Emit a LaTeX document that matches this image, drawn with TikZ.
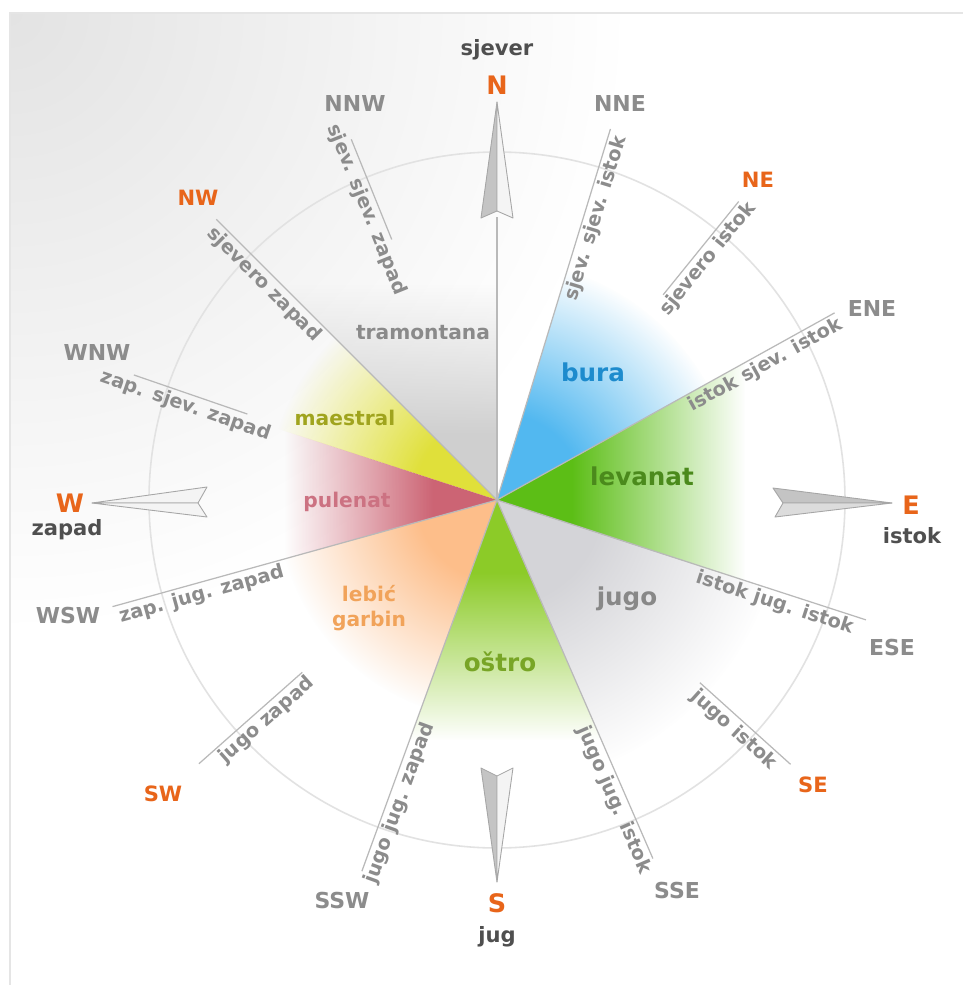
\documentclass[tikz,border=0pt]{standalone}
\usepackage{fontspec}
\setmainfont{DejaVu Sans}
\usepackage{xcolor}
\usepackage{tikz}
\usetikzlibrary{calc}
\usetikzlibrary{fadings}

\definecolor{ltext}{HTML}{8C8C8C}
\definecolor{dtext}{HTML}{4F4F4F}
\definecolor{otext}{HTML}{E8651A}
\definecolor{rayline}{HTML}{B9B9B9}
\definecolor{ringline}{HTML}{E2E2E2}
\definecolor{arrowdark}{HTML}{C4C4C4}
\definecolor{arrowlight}{HTML}{F4F4F4}
\definecolor{arrowedge}{HTML}{A6A6A6}
\definecolor{tramcol}{HTML}{CFCFCF}
\definecolor{maescol}{HTML}{E0E03A}
\definecolor{pulcol}{HTML}{CC6474}
\definecolor{lebcol}{HTML}{FDBE8A}
\definecolor{ostcol}{HTML}{8CCB28}
\definecolor{jugcol}{HTML}{D4D4D8}
\definecolor{levcol}{HTML}{5CBE16}
\definecolor{buracol}{HTML}{52B8F0}
\definecolor{tramtext}{HTML}{8A8A8A}
\definecolor{maestext}{HTML}{A0A41E}
\definecolor{pultext}{HTML}{CC7282}
\definecolor{lebtext}{HTML}{F1A35A}
\definecolor{osttext}{HTML}{78A526}
\definecolor{jugtext}{HTML}{888888}
\definecolor{levtext}{HTML}{4B8A1C}
\definecolor{buratext}{HTML}{1D8BCD}

\pgfdeclareradialshading{windmaskr}{\pgfpoint{0bp}{0bp}}{color(0bp)=(white); color(9bp)=(white); color(25bp)=(black); color(50bp)=(black)}
\pgfdeclarefading{windradial}{\pgfuseshading{windmaskr}}
\pgfdeclareverticalshading{windmaskv}{100bp}{color(0bp)=(white); color(25bp)=(white); color(40bp)=(white); color(75bp)=(black); color(100bp)=(black)}
\pgfdeclarefading{windaxis}{\pgfuseshading{windmaskv}}

\begin{document}
\begin{tikzpicture}[x=0.2mm,y=0.2mm,
	ray/.style={draw=rayline,line width=0.7pt},
	ring/.style={draw=ringline,line width=0.9pt},
	darkhalf/.style={fill=arrowdark,draw=arrowedge,line width=0.5pt,line join=round},
	lighthalf/.style={fill=arrowlight,draw=arrowedge,line width=0.5pt,line join=round},
	point/.style={font=\fontsize{12.5}{15}\selectfont\bfseries,text=ltext},
	mainpoint/.style={font=\fontsize{14.5}{17}\selectfont\bfseries,text=otext},
	halfpoint/.style={font=\fontsize{12}{14}\selectfont\bfseries,text=otext},
	side/.style={font=\fontsize{12}{14}\selectfont\bfseries,text=dtext},
	raytext/.style={font=\fontsize{11}{13}\selectfont\bfseries,text=ltext,anchor=north,inner sep=1.5pt},
	bigwind/.style={font=\fontsize{14}{16}\selectfont\bfseries},
	smallwind/.style={font=\fontsize{11.5}{14}\selectfont\bfseries}]
	\useasboundingbox (-497,-485) rectangle (466,500);
	\fill[white] (-497,-485) rectangle (466,500);
	\begin{scope}
		\clip (-487,-485) rectangle (466,487);
		\shade[inner color=black!11,outer color=white] (-487,487) circle (620);
	\end{scope}
	\draw[black!10,line width=0.8pt] (-487,-485) -- (-487,487) -- (466,487);

	% wind sectors
	\fill[tramcol,path fading=windaxis] (0,0) -- (0,215) -- (-215,215) -- cycle;
	\begin{scope}
		\clip (0,0) -- (135:400) -- (162:400) -- cycle;
		\fill[maescol,path fading=windradial] (0,0) circle (230);
	\end{scope}
	\fill[pulcol,path fading=windaxis,fading angle=90] (0,0) -- (-212,69) -- (-212,-59) -- cycle;
	\begin{scope}
		\clip (0,0) -- (195.5:400) -- (250:400) -- cycle;
		\fill[lebcol,path fading=windradial] (0,0) circle (220);
	\end{scope}
	\fill[ostcol,path fading=windaxis,fading angle=180] (0,0) -- (-87,-240) -- (104,-240) -- cycle;
	\begin{scope}
		\clip (0,0) -- (-66.5:400) -- (-18:400) -- cycle;
		\fill[jugcol,path fading=windradial] (0,0) circle (285);
	\end{scope}
	\fill[levcol,path fading=windaxis,fading angle=-90] (0,0) -- (248,137) -- (248,-81) -- cycle;
	\begin{scope}
		\clip (0,0) -- (29:400) -- (73:400) -- cycle;
		\fill[buracol,path fading=windradial] (0,0) circle (240);
	\end{scope}

	\draw[ring] (0,0) circle (348);

	% rays
	\draw[ray] (0,0) -- (90:283);
	\draw[ray] (0,0) -- (73:388);
	\draw[ray] (0,0) -- (29:386);
	\draw[ray] (0,0) -- (-18:388);
	\draw[ray] (0,0) -- (-66.5:391);
	\draw[ray] (0,0) -- (250:395);
	\draw[ray] (0,0) -- (195.5:399);
	\draw[ray] (0,0) -- (135:397);
	\draw[ray] (112:281) -- (112:389);
	\draw[ray] (51:264) -- (51:384);
	\draw[ray] (161:264) -- (161:384);
	\draw[ray] (-42:273) -- (-42:395);
	\draw[ray] (221.5:260) -- (221.5:398);

	% arrows
	\draw[darkhalf] (0,398) -- (-16,282) -- (0,289) -- cycle;
	\draw[lighthalf] (0,398) -- (0,289) -- (16,282) -- cycle;
	\draw[darkhalf] (0,-382) -- (-16,-268) -- (0,-276) -- cycle;
	\draw[lighthalf] (0,-382) -- (0,-276) -- (16,-268) -- cycle;
	\draw[darkhalf] (395,-3) -- (276,12) -- (286,-3) -- cycle;
	\draw[darkhalf,fill=arrowdark!60!white] (395,-3) -- (286,-3) -- (278,-17) -- cycle;
	\draw[lighthalf] (-405,-3) -- (-290,13) -- (-299,-3) -- cycle;
	\draw[lighthalf] (-405,-3) -- (-299,-3) -- (-290,-17) -- cycle;

	% ray labels
	\node[raytext,rotate=-68] (nnwtext) at (112:318) {sjev. sjev. zapad};
	\node[raytext,rotate=-45] (nwtext) at (135:317) {sjevero zapad};
	\node[raytext,rotate=-19] (wnwtext) at (161:325) {zap. sjev. zapad};
	\node[raytext,rotate=15.5] (wswtext) at (195.5:310) {zap. jug. zapad};
	\node[raytext,rotate=41.5] (swtext) at (221.5:318) {jugo zapad};
	\node[raytext,rotate=70] (sswtext) at (250:318) {jugo jug. zapad};
	\node[raytext,rotate=-66.5] (ssetext) at (-66.5:322) {jugo jug. istok};
	\node[raytext,rotate=-42] (setext) at (-42:330) {jugo istok};
	\node[raytext,rotate=-18] (esetext) at (-18:296) {istok jug. istok};
	\node[raytext,rotate=29] (enetext) at (29:300) {istok sjev. istok};
	\node[raytext,rotate=51] (netext) at (51:320) {sjevero istok};
	\node[raytext,rotate=73] (nnetext) at (73:298) {sjev. sjev. istok};

	% compass points
	\node[side] (sjever) at (0,450) {sjever};
	\node[mainpoint] (n) at (0,415) {N};
	\node[point] (nnw) at (-142,397) {NNW};
	\node[point] (nne) at (123,397) {NNE};
	\node[halfpoint] (nw) at (-299,302) {NW};
	\node[halfpoint] (ne) at (261,320) {NE};
	\node[point] (wnw) at (-400,148) {WNW};
	\node[point] (ene) at (375,192) {ENE};
	\node[mainpoint] (w) at (-427,-3) {W};
	\node[side] (zapad) at (-430,-30) {zapad};
	\node[mainpoint] (e) at (414,-5) {E};
	\node[side] (istok) at (415,-36) {istok};
	\node[point] (wsw) at (-429,-115) {WSW};
	\node[point] (ese) at (395,-147) {ESE};
	\node[halfpoint] (sw) at (-334,-294) {SW};
	\node[halfpoint] (se) at (316,-285) {SE};
	\node[point] (ssw) at (-155,-400) {SSW};
	\node[point] (sse) at (180,-390) {SSE};
	\node[mainpoint] (s) at (0,-403) {S};
	\node[side] (jug) at (0,-437) {jug};

	% winds
	\node[smallwind,text=tramtext] (tramontana) at (-74,167) {tramontana};
	\node[smallwind,text=maestext] (maestral) at (-152,82) {maestral};
	\node[smallwind,text=pultext] (pulenat) at (-150,-2) {pulenat};
	\node[smallwind,text=lebtext,align=center] (lebic) at (-128,-108) {lebić\\garbin};
	\node[bigwind,text=osttext] (ostro) at (3,-162) {oštro};
	\node[bigwind,text=jugtext] (jugo) at (130,-99) {jugo};
	\node[bigwind,text=levtext] (levanat) at (145,24) {levanat};
	\node[bigwind,text=buratext] (bura) at (96,128) {bura};
\end{tikzpicture}
\end{document}
